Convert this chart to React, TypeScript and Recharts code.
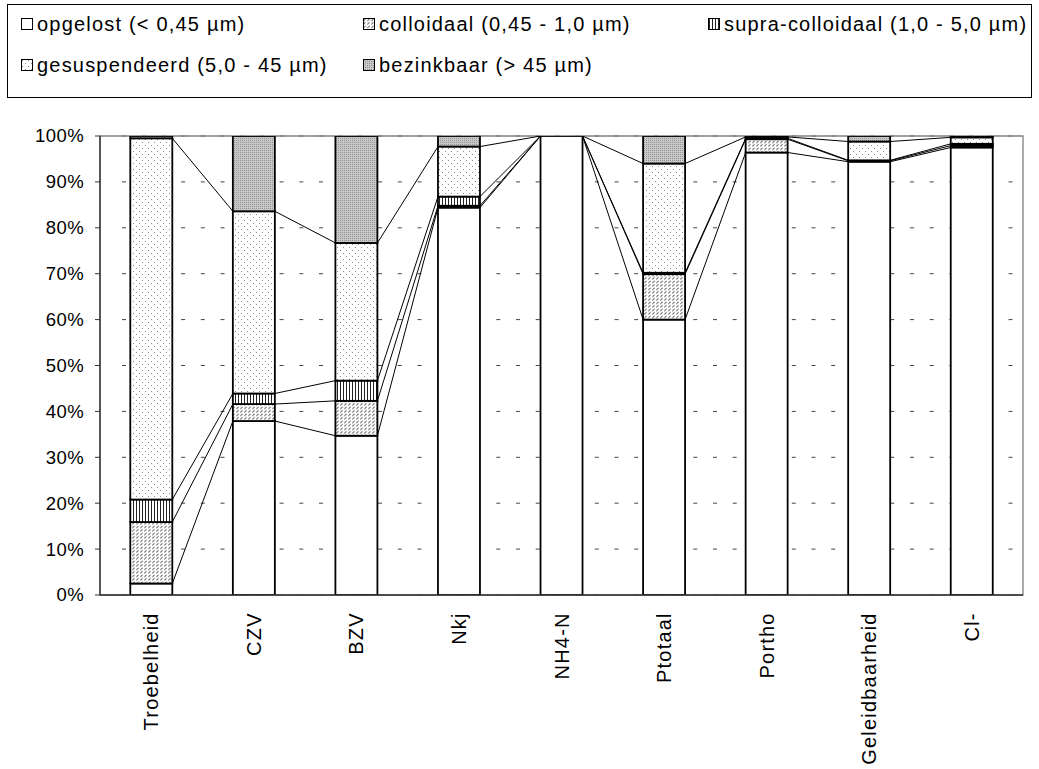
import { FC } from 'react'
import {
  Bar,
  BarChart,
  CartesianGrid,
  ReferenceArea,
  XAxis,
  YAxis,
} from 'recharts'

const categories = [
  'Troebelheid',
  'CZV',
  'BZV',
  'Nkj',
  'NH4-N',
  'Ptotaal',
  'Portho',
  'Geleidbaarheid',
  'Cl-',
]

// fractie per parameter, in % van totaal
const opgelost = [2.5, 37.9, 34.7, 84.4, 100, 60.0, 96.4, 94.4, 97.5]
const colloidaal = [13.4, 3.7, 7.6, 0.4, 0, 9.9, 2.9, 0.2, 0.4]
const supraColloidaal = [4.9, 2.3, 4.4, 2.0, 0, 0.3, 0.2, 0.1, 0.4]
const gesuspendeerd = [78.7, 39.7, 30.0, 10.9, 0, 23.8, 0.3, 4.1, 1.4]
const bezinkbaar = [0.5, 16.4, 23.3, 2.3, 0, 6.0, 0.2, 1.2, 0.3]

const yTicks = [0, 10, 20, 30, 40, 50, 60, 70, 80, 90, 100]

const series = [
  { key: 'opgelost', label: 'opgelost (< 0,45 µm)', values: opgelost, fill: '#ffffff' },
  { key: 'colloidaal', label: 'colloidaal (0,45 - 1,0 µm)', values: colloidaal, fill: 'url(#pat-coll)' },
  { key: 'supra', label: 'supra-colloidaal (1,0 - 5,0 µm)', values: supraColloidaal, fill: 'url(#pat-supra)' },
  { key: 'gesuspendeerd', label: 'gesuspendeerd (5,0 - 45 µm)', values: gesuspendeerd, fill: 'url(#pat-gesusp)' },
  { key: 'bezinkbaar', label: 'bezinkbaar (> 45 µm)', values: bezinkbaar, fill: 'url(#pat-bez)' },
]

const data = categories.map((name, i) => {
  const row: Record<string, string | number> = { name }
  series.forEach((s) => (row[s.key] = s.values[i]))
  return row
})

const FONT = '"Liberation Sans", Arial, sans-serif'
const GAP = 30.3

// top of series s (cumulative) for category i
const cumTop = (i: number, s: number) => {
  let t = 0
  for (let k = 0; k <= s; k++) t += series[k].values[i]
  return t
}

const Patterns = () => (
  <svg width={0} height={0} style={{ position: 'absolute' }}>
    <defs>
      <pattern id="pat-coll" width={4} height={3.5} patternUnits="userSpaceOnUse">
        <rect width={4} height={3.5} fill="#fff" />
        <path d="M0.3,3 L2.6,0.8" stroke="#555" strokeWidth={0.9} />
      </pattern>
      <pattern id="pat-supra" width={3} height={3} patternUnits="userSpaceOnUse">
        <rect width={3} height={3} fill="#fff" />
        <rect x={1} width={1} height={3} fill="#222" />
      </pattern>
      <pattern id="pat-gesusp" width={6} height={6} patternUnits="userSpaceOnUse">
        <rect width={6} height={6} fill="#fff" />
        <rect x={1} y={1} width={1} height={1} fill="#8a8a8a" />
        <rect x={4} y={4} width={1} height={1} fill="#8a8a8a" />
      </pattern>
      <pattern id="pat-bez" width={2} height={2} patternUnits="userSpaceOnUse">
        <rect width={2} height={2} fill="#c8c8c8" />
        <rect width={1} height={1} fill="#949494" />
      </pattern>
    </defs>
  </svg>
)

type ShapeProps = {
  x: number
  y: number
  width: number
  height: number
  index: number
  fill: string
  background?: { x: number; y: number; width: number; height: number }
}

const Segment: FC<ShapeProps & { seriesIndex: number }> = (props) => {
  const { x, y, width, height, index, seriesIndex, background } = props
  if (!(height >= 0) || series[seriesIndex].values[index] <= 0) return null
  const rect = (
    <rect
      x={x}
      y={y}
      width={width}
      height={height}
      fill={series[seriesIndex].fill}
      stroke="#000"
      strokeWidth={1.8}
    />
  )
  if (seriesIndex !== 0 || index >= categories.length - 1) return rect

  // series lines between this bar and the next one
  const v = series[0].values[index]
  const yOf = background
    ? (p: number) => background.y + background.height * (1 - p / 100)
    : (p: number) => y + height - (p * height) / v
  const x1 = x + width
  const x2 = x + width + 2 * GAP
  return (
    <g>
      {rect}
      {series.slice(0, 4).map((s, k) => (
        <line
          key={s.key}
          x1={x1}
          y1={yOf(cumTop(index, k))}
          x2={x2}
          y2={yOf(cumTop(index + 1, k))}
          stroke="#000"
          strokeWidth={1}
        />
      ))}
    </g>
  )
}

const CategoryTick = ({ x, y, payload }: { x: number; y: number; payload: { value: string } }) => (
  <g transform={`translate(${x},${y})`}>
    <text
      transform="rotate(-90)"
      x={-17.3}
      y={0}
      dy="0.35em"
      textAnchor="end"
      fill="#000"
      fontSize={20}
      fontFamily={FONT}
      letterSpacing={1.2}
    >
      {payload.value}
    </text>
  </g>
)

const PercentTick = ({ x, y, payload }: { x: number; y: number; payload: { value: number } }) => (
  <text
    x={x}
    y={y}
    dy="0.35em"
    textAnchor="end"
    fill="#000"
    fontSize={18.5}
    fontFamily={FONT}
    letterSpacing={0.4}
  >
    {`${payload.value}%`}
  </text>
)

const GridLine = (props: { x1: number; x2: number; y1: number; y2: number }) => (
  <line
    x1={props.x1 + 22}
    x2={props.x2}
    y1={props.y1}
    y2={props.y2}
    stroke="#444"
    strokeWidth={1}
    strokeDasharray="4 15.7"
  />
)

const legendPos = [
  { left: 21, top: 23 },
  { left: 363, top: 23 },
  { left: 708, top: 23 },
  { left: 21, top: 64 },
  { left: 363, top: 64 },
]

const Legend = () => (
  <div
    style={{
      position: 'absolute',
      left: 7,
      top: 4,
      width: 1025,
      height: 94,
      border: '1px solid #000',
      boxSizing: 'border-box',
    }}
  >
    {series.map((s, i) => (
      <div
        key={s.key}
        style={{
          position: 'absolute',
          left: legendPos[i].left - 8,
          top: legendPos[i].top - 4 - 12,
          height: 24,
          display: 'flex',
          alignItems: 'center',
          fontFamily: FONT,
          fontSize: 20,
          letterSpacing: 1.2,
          whiteSpace: 'nowrap',
          lineHeight: '24px',
        }}
      >
        <svg width={12} height={12} style={{ marginRight: 4 }}>
          <rect x={0.5} y={0.5} width={11} height={11} fill={s.fill} stroke="#000" strokeWidth={1} />
        </svg>
        {s.label}
      </div>
    ))}
  </div>
)

const App = () => (
  <div
    style={{
      position: 'absolute',
      left: 0,
      top: 0,
      width: 1039,
      height: 769,
      background: '#fff',
    }}
  >
    <Patterns />
    <Legend />
    <BarChart
      width={1039}
      height={769}
      data={data}
      margin={{ top: 136, right: 16, bottom: 24, left: 40 }}
      barCategoryGap={GAP}
    >
      <CartesianGrid vertical={false} horizontal={GridLine} />
      <ReferenceArea y1={0} y2={100} fill="none" stroke="#808080" strokeWidth={1.3} />
      <XAxis
        dataKey="name"
        interval={0}
        height={150}
        tickLine={false}
        tickSize={0}
        tickMargin={0}
        axisLine={{ stroke: '#333', strokeWidth: 1.4 }}
        tick={(p: any) => <CategoryTick {...p} />}
      />
      <YAxis
        domain={[0, 100]}
        ticks={yTicks}
        allowDataOverflow
        width={60}
        tickSize={5}
        tickMargin={11}
        axisLine={{ stroke: '#333', strokeWidth: 1.4 }}
        tickLine={{ stroke: '#333' }}
        tick={(p: any) => <PercentTick {...p} />}
      />
      {series.map((s, si) => (
        <Bar
          key={s.key}
          dataKey={s.key}
          stackId="a"
          fill={s.fill}
          isAnimationActive={false}
          shape={(p: any) => <Segment {...p} seriesIndex={si} />}
        />
      ))}
    </BarChart>
  </div>
)

export default App
